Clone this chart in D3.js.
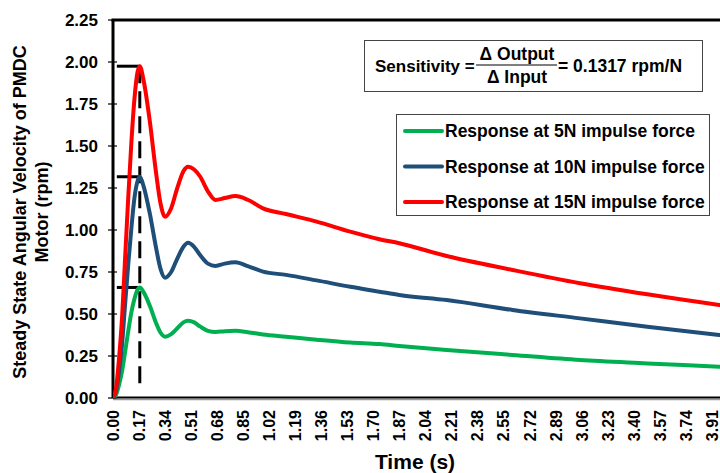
<!DOCTYPE html>
<html>
<head>
<meta charset="utf-8">
<script src="https://cdn.jsdelivr.net/npm/d3@7"></script>
<style>
    body { margin: 0; background: #fff; }
    text { font-family: 'Liberation Sans', Arial, sans-serif; font-weight: bold; fill: #000; }
</style>
</head>
<body>
<svg id="chart"></svg>
<script>
// time samples (s)
let time = [0, 0.02, 0.04, 0.06, 0.08, 0.10, 0.12, 0.14, 0.16, 0.175, 0.20, 0.24, 0.28, 0.31, 0.34, 0.38, 0.42,
    0.46, 0.49, 0.53, 0.57, 0.62, 0.67, 0.73, 0.80, 0.88, 0.98, 1.13, 1.33, 1.55, 1.74, 1.87, 2.18, 2.61, 3.05,
    3.49, 3.96, 4.05];

let response5N = [0, 0.02, 0.08, 0.165, 0.28, 0.40, 0.51, 0.59, 0.645, 0.658, 0.63, 0.55, 0.45, 0.39, 0.365,
    0.38, 0.415, 0.45, 0.46, 0.45, 0.425, 0.40, 0.393, 0.398, 0.40, 0.392, 0.378, 0.365, 0.347, 0.33, 0.321,
    0.31, 0.286, 0.256, 0.226, 0.206, 0.186, 0.182];

let response10N = [0, 0.04, 0.16, 0.33, 0.57, 0.80, 1.01, 1.19, 1.29, 1.317, 1.26, 1.10, 0.90, 0.77, 0.716,
    0.75, 0.83, 0.90, 0.924, 0.90, 0.85, 0.80, 0.786, 0.80, 0.808, 0.785, 0.752, 0.733, 0.70, 0.662, 0.633,
    0.613, 0.583, 0.524, 0.474, 0.424, 0.375, 0.366];

let response15N = [0, 0.06, 0.24, 0.49, 0.85, 1.20, 1.52, 1.78, 1.94, 1.975, 1.89, 1.65, 1.35, 1.16, 1.079,
    1.13, 1.25, 1.35, 1.377, 1.36, 1.317, 1.23, 1.179, 1.19, 1.202, 1.18, 1.129, 1.095, 1.05, 0.99, 0.945,
    0.921, 0.845, 0.762, 0.683, 0.617, 0.554, 0.543];

let seriesNames = ['Response at 5N impulse force', 'Response at 10N impulse force', 'Response at 15N impulse force'];
let seriesColors = ['#00B050', '#1F4E79', '#FF0000'];

let xTickLabels = ['0.00', '0.17', '0.34', '0.51', '0.68', '0.85', '1.02', '1.19', '1.36', '1.53', '1.70', '1.87',
    '2.04', '2.21', '2.38', '2.55', '2.72', '2.89', '3.06', '3.23', '3.40', '3.57', '3.74', '3.91'];
let yTickValues = [0, 0.25, 0.5, 0.75, 1.0, 1.25, 1.5, 1.75, 2.0, 2.25];

// peak markers (dashed line at the first peak)
let peakTime = 0.175;
let peakValues = [0.658, 1.317, 1.975];

let margin = {top: 20, left: 113};
let width = 620;
let height = 378;

let svg = d3.select('#chart')
    .attr('width', 720)
    .attr('height', 473);

svg.append('rect').attr('width', 720).attr('height', 473).attr('fill', '#fff');

let g = svg.append('g')
    .attr('transform', 'translate(' + margin.left + ',' + margin.top + ')');

let xScale = d3.scaleLinear().domain([0, 4.05]).range([0, width]);
let yScale = d3.scaleLinear().domain([0, 2.25]).range([height, 0]);

g.append('defs').append('clipPath')
    .attr('id', 'plot-clip')
    .append('rect')
    .attr('width', width)
    .attr('height', height);

// x axis labels (rotated)
let xAxis = d3.axisBottom(xScale)
    .tickValues(xTickLabels.map(Number))
    .tickFormat(d3.format('.2f'))
    .tickSize(0);
let xg = g.append('g')
    .attr('transform', 'translate(0,' + height + ')')
    .call(xAxis);
xg.select('.domain').remove();
xg.selectAll('text')
    .attr('transform', 'rotate(-90)')
    .attr('x', -12)
    .attr('y', 0)
    .attr('dy', '0.35em')
    .style('text-anchor', 'end')
    .style('font-size', '16px');

// y axis labels
let yAxis = d3.axisLeft(yScale)
    .tickValues(yTickValues)
    .tickFormat(d3.format('.2f'))
    .tickSize(0)
    .tickPadding(15);
let yg = g.append('g').call(yAxis);
yg.select('.domain').remove();
yg.selectAll('text').style('font-size', '17px');

// cross tick marks on the value axis
g.selectAll('.ytick')
    .data(yTickValues)
    .enter().append('line')
    .attr('class', 'ytick')
    .attr('x1', -5)
    .attr('x2', 4)
    .attr('y1', d => yScale(d))
    .attr('y2', d => yScale(d))
    .attr('stroke', '#000')
    .attr('stroke-width', 1.2);

// plot frame
g.append('line')
    .attr('x1', 0).attr('x2', width)
    .attr('y1', height + 1.5).attr('y2', height + 1.5)
    .attr('stroke', '#999').attr('stroke-width', 1.5);
g.append('line')
    .attr('x1', 0).attr('x2', width)
    .attr('y1', height - 0.5).attr('y2', height - 0.5)
    .attr('stroke', '#000').attr('stroke-width', 2);
g.append('line')
    .attr('x1', -1.5).attr('x2', width)
    .attr('y1', 0).attr('y2', 0)
    .attr('stroke', '#000').attr('stroke-width', 3);
g.append('line')
    .attr('x1', 0).attr('x2', 0)
    .attr('y1', 0).attr('y2', height)
    .attr('stroke', '#000').attr('stroke-width', 3);

// dashed vertical line and peak markers
g.append('line')
    .attr('x1', xScale(peakTime)).attr('x2', xScale(peakTime))
    .attr('y1', yScale(d3.max(peakValues))).attr('y2', yScale(0.05))
    .attr('stroke', '#000')
    .attr('stroke-width', 3)
    .attr('stroke-dasharray', '17,8');

g.selectAll('.peak')
    .data(peakValues)
    .enter().append('line')
    .attr('class', 'peak')
    .attr('x1', xScale(0.025))
    .attr('x2', xScale(peakTime))
    .attr('y1', d => yScale(d))
    .attr('y2', d => yScale(d))
    .attr('stroke', '#000')
    .attr('stroke-width', 3);

// response curves
let line = d3.line()
    .x((d, i) => xScale(time[i]))
    .y(d => yScale(d))
    .curve(d3.curveMonotoneX);

let series = [response5N, response10N, response15N];
g.append('g')
    .attr('clip-path', 'url(#plot-clip)')
    .selectAll('.series')
    .data(series)
    .enter().append('path')
    .attr('class', 'series')
    .attr('fill', 'none')
    .attr('stroke', (d, i) => seriesColors[i])
    .attr('stroke-width', 4)
    .attr('stroke-linejoin', 'round')
    .attr('d', d => line(d));

// axis titles
svg.append('text')
    .attr('x', 415)
    .attr('y', 469)
    .attr('text-anchor', 'middle')
    .style('font-size', '21px')
    .text('Time (s)');

let yTitle = svg.append('text')
    .attr('transform', 'translate(26,212) rotate(-90)')
    .attr('text-anchor', 'middle')
    .style('font-size', '18px');
yTitle.append('tspan').attr('x', 0).attr('y', 0).text('Steady State Angular Velocity of PMDC');
yTitle.append('tspan').attr('x', 0).attr('y', 22).text('Motor (rpm)');

// sensitivity box
let sens = svg.append('g');
sens.append('rect')
    .attr('x', 364.5).attr('y', 40.5)
    .attr('width', 338).attr('height', 51)
    .attr('fill', '#fff')
    .attr('stroke', '#444')
    .attr('stroke-width', 1);
sens.append('text')
    .attr('x', 375).attr('y', 72)
    .style('font-size', '17px')
    .text('Sensitivity =');
sens.append('text')
    .attr('x', 517).attr('y', 60)
    .attr('text-anchor', 'middle')
    .style('font-size', '17.5px')
    .text('\u0394 Output');
sens.append('line')
    .attr('x1', 476).attr('x2', 557)
    .attr('y1', 65).attr('y2', 65)
    .attr('stroke', '#000').attr('stroke-width', 1.2);
sens.append('text')
    .attr('x', 517).attr('y', 83)
    .attr('text-anchor', 'middle')
    .style('font-size', '17.5px')
    .text('\u0394 Input');
sens.append('text')
    .attr('x', 558).attr('y', 72)
    .style('font-size', '17.5px')
    .text('= 0.1317 rpm/N');

// legend
let legend = svg.append('g');
legend.append('rect')
    .attr('x', 396.5).attr('y', 114.5)
    .attr('width', 313).attr('height', 101)
    .attr('fill', '#fff')
    .attr('stroke', '#444')
    .attr('stroke-width', 1);
let items = legend.selectAll('.item')
    .data(seriesNames)
    .enter().append('g')
    .attr('class', 'item')
    .attr('transform', (d, i) => 'translate(0,' + (131 + i * 35.5) + ')');
items.append('line')
    .attr('x1', 405).attr('x2', 442)
    .attr('stroke', (d, i) => seriesColors[i])
    .attr('stroke-width', 4)
    .attr('stroke-linecap', 'round');
items.append('text')
    .attr('x', 445)
    .attr('dy', '0.35em')
    .style('font-size', '17.5px')
    .text(d => d);
</script>
</body>
</html>
